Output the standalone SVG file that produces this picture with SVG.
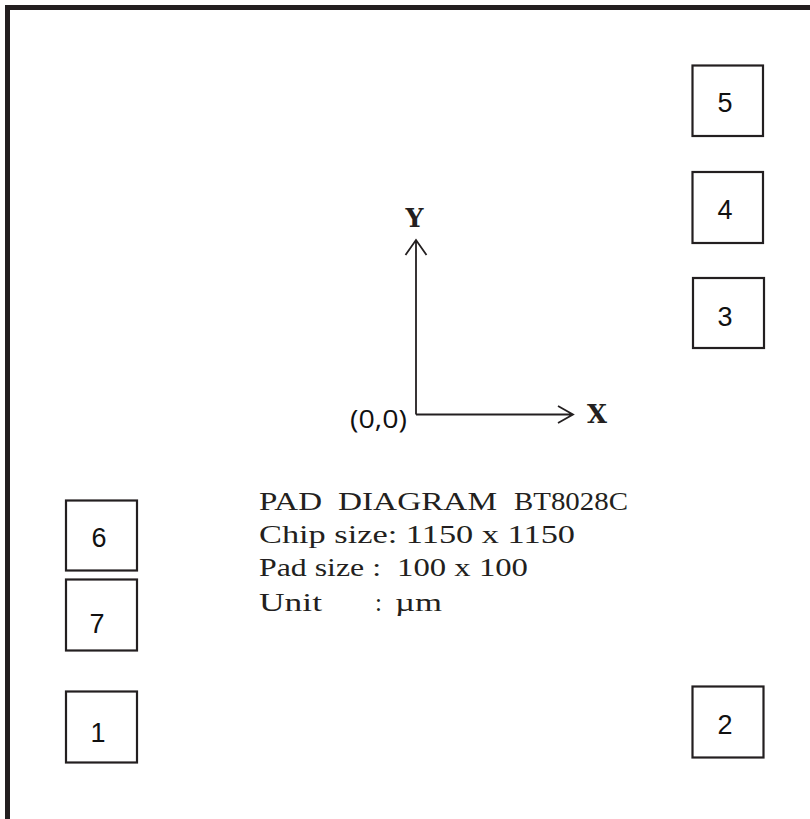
<svg xmlns="http://www.w3.org/2000/svg" width="810" height="819" viewBox="0 0 810 819">
<style>
.pad rect{fill:#fff;stroke:#231f20;stroke-width:2.2}
.pad text{font-family:"Liberation Sans",Arial,sans-serif;font-size:27px;fill:#111;text-anchor:middle}
.ax{stroke:#231f20;stroke-width:1.8;fill:none}
.axl{font-family:"DejaVu Serif","Liberation Serif",serif;font-weight:bold;font-size:26px;fill:#231f20;text-anchor:middle}
.info{font-family:"Liberation Serif","Times New Roman",serif;font-size:25px;fill:#231f20}
</style>
<rect width="810" height="819" fill="#fff"/>
<path id="frame" d="M7.5,819 V7.5 H810" fill="none" stroke="#231f20" stroke-width="5"/>
<g id="pad5" class="pad"><rect x="692.5" y="65.5" width="70.5" height="70.5"/><text x="725" y="112">5</text></g>
<g id="pad4" class="pad"><rect x="692.5" y="172" width="70.5" height="71"/><text x="725" y="219">4</text></g>
<g id="pad3" class="pad"><rect x="693" y="278" width="71" height="70"/><text x="725" y="326">3</text></g>
<g id="pad2" class="pad"><rect x="692.5" y="686.5" width="71" height="71"/><text x="725" y="734">2</text></g>
<g id="pad6" class="pad"><rect x="66" y="500.5" width="71" height="70"/><text x="99" y="547">6</text></g>
<g id="pad7" class="pad"><rect x="66" y="579.5" width="71" height="71"/><text x="97" y="633">7</text></g>
<g id="pad1" class="pad"><rect x="66" y="691.5" width="71" height="71"/><text x="98" y="742">1</text></g>
<g id="connectors">
<path class="ax" d="M416,414.5 V240 M405.5,255 L416,240 L426.5,255"/>
<path class="ax" d="M416,414.5 H573 M558,406 L573,414.5 L558,423"/>
</g>
<g id="axis-labels">
<text class="axl" x="414.5" y="227" textLength="18" lengthAdjust="spacingAndGlyphs">Y</text>
<text class="axl" x="597" y="423" textLength="20" lengthAdjust="spacingAndGlyphs">X</text>
<text x="378.5" y="428" font-family="'Open Sans','Liberation Sans',sans-serif" font-size="25" text-anchor="middle" fill="#111" textLength="57" lengthAdjust="spacingAndGlyphs">(0,0)</text>
</g>
<g id="info" class="info">
<text x="259" y="510" textLength="63" lengthAdjust="spacingAndGlyphs">PAD</text>
<text x="338" y="510" textLength="159" lengthAdjust="spacingAndGlyphs">DIAGRAM</text>
<text x="514" y="510" textLength="114" lengthAdjust="spacingAndGlyphs">BT8028C</text>
<text x="259" y="543" textLength="316" lengthAdjust="spacingAndGlyphs">Chip size: 1150 x 1150</text>
<text x="259" y="576" textLength="122" lengthAdjust="spacingAndGlyphs">Pad size :</text>
<text x="397" y="576" textLength="131" lengthAdjust="spacingAndGlyphs">100 x 100</text>
<text x="259" y="611" textLength="63" lengthAdjust="spacingAndGlyphs">Unit</text>
<text x="375" y="611">:</text>
<text x="395" y="611" textLength="47" lengthAdjust="spacingAndGlyphs">µm</text>
</g>
</svg>
